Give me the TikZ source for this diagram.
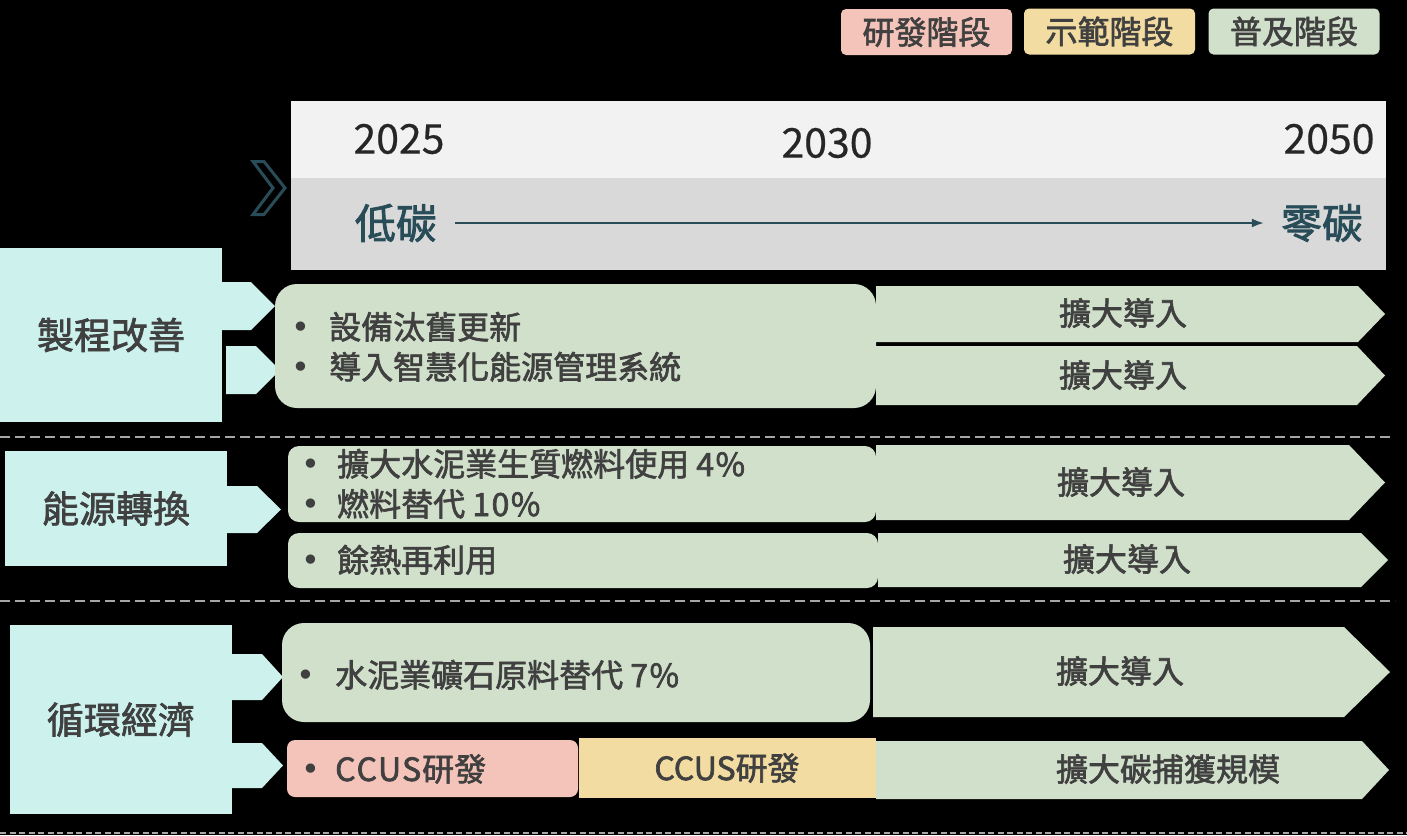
\documentclass[tikz,border=0pt]{standalone}
\usepackage{fontspec}
\setmainfont{Noto Sans CJK TC}[FakeBold=2]
\newfontfamily\yearfont{Noto Sans CJK TC}[FakeBold=0.5]
\newfontfamily\bulletfont{DejaVu Sans}
\usepackage{tikz}
\usetikzlibrary{arrows.meta}

\definecolor{txtgray}{HTML}{404040}
\definecolor{catcyan}{HTML}{CDF2EE}
\definecolor{stagegreen}{HTML}{D0E0CA}
\definecolor{stagepink}{HTML}{F4C4BA}
\definecolor{stageyellow}{HTML}{F2DCA2}
\definecolor{hdlight}{HTML}{F2F2F2}
\definecolor{hddark}{HTML}{D9D9D9}
\definecolor{darkteal}{HTML}{284C58}
\definecolor{sepgray}{HTML}{A6A6A6}

\newcommand\bulletline[2]{\makebox[0pt]{\raisebox{1pt}{\bulletfont\fontsize{32}{36}\selectfont •}}\hspace{#1}#2}

\begin{document}
\begin{tikzpicture}[x=1pt,y=-1pt,
    legend/.style={rounded corners=5pt, minimum width=171pt, minimum height=46pt, inner sep=0pt, text=txtgray, font=\fontsize{32}{38}\selectfont},
    catbox/.style={fill=catcyan, minimum width=222pt, inner sep=0pt, text=txtgray, font=\fontsize{37}{44}\selectfont},
    year/.style={inner sep=0pt, text=black!85, font=\yearfont\fontsize{41}{48}\selectfont},
    carbon/.style={inner sep=0pt, text=darkteal, font=\fontsize{41}{48}\selectfont},
    item/.style={anchor=west, inner sep=0pt, text height=26pt, text depth=2pt, text=txtgray, font=\fontsize{32}{38}\selectfont},
    stagetext/.style={inner sep=0pt, text=txtgray, font=\fontsize{32}{38}\selectfont},
    sepline/.style={sepgray, line width=2pt, dash pattern=on 10pt off 5pt}]

  % Background
  \fill[black] (0,0) rectangle (1407,835);
  \useasboundingbox (0,0) rectangle (1407,835);

  % Legend
  \node[legend, fill=stagepink] (rd) at (926.5,32) {研發階段};
  \node[legend, fill=stageyellow] (demo) at (1109.5,31.5) {示範階段};
  \node[legend, fill=stagegreen] (pop) at (1294,31.5) {普及階段};

  % Timeline header
  \fill[hdlight] (291,101) rectangle (1386,178);
  \fill[hddark] (291,178) rectangle (1386,270);
  \draw[darkteal, line width=3pt, line join=miter] (253,161.5) -- (264,161.5) -- (285,188) -- (264,214.5) -- (253,214.5) -- (273,188) -- cycle;
  \node[year] (y2025) at (399,139) {2025};
  \node[year] (y2030) at (827,143) {2030};
  \node[year] (y2050) at (1329,139) {2050};
  \node[carbon] (low) at (396,223) {低碳};
  \node[carbon] (zero) at (1322,223) {零碳};
  \draw[darkteal, line width=2pt, -{Latex[length=12pt,width=9pt]}, shorten <=18pt, shorten >=17pt] (low.east) -- (zero.west);

  % Categories
  \node[catbox, minimum height=174pt] (proc) at (111,335) {製程改善};
  \node[catbox, minimum height=115pt] (energy) at (116,508.5) {能源轉換};
  \node[catbox, minimum height=189pt] (circ) at (121,719.5) {循環經濟};
  \foreach \xa/\xb/\xc/\yt/\yb in {222/251/275/282/330, 226/256/280/346/394, 227/257/281/486/533, 232/262/283/654/700, 232/262/283/743/788} {
    \fill[catcyan] (\xa,\yt) -- (\xb,\yt) -- (\xc,{(\yt+\yb)/2}) -- (\xb,\yb) -- (\xa,\yb) -- cycle;
  }

  % Separators
  \draw[sepline] (0,437) -- (1392,437);
  \draw[sepline] (0,601) -- (1395,601);
  \draw[sepgray, line width=2pt, dash pattern=on 6pt off 3.5pt] (0,833) -- (1407,833);

  % Stage arrows
  \foreach \xa/\xb/\xc/\yt/\yb in {876/1358/1385/286/342, 876/1357/1385/346/405, 876/1349/1385/445/520, 878/1361/1388/533/587, 873/1344/1390/627/717, 876/1362/1389/741/799} {
    \fill[stagegreen] (\xa,\yt) -- (\xb,\yt) -- (\xc,{(\yt+\yb)/2}) -- (\xb,\yb) -- (\xa,\yb) -- cycle;
  }
  \node[stagetext] (r1) at (1123,313) {擴大導入};
  \node[stagetext] (r2) at (1123,375) {擴大導入};
  \node[stagetext] (r3) at (1121,482) {擴大導入};
  \node[stagetext] (r4) at (1127,559) {擴大導入};
  \node[stagetext] (r5) at (1120,671) {擴大導入};
  \node[stagetext] (r6) at (1168,769) {擴大碳捕獲規模};

  % Measures
  \fill[stagegreen, rounded corners=22pt] (275,284) rectangle (876,408);
  \fill[stagegreen, rounded corners=11pt] (288,446) rectangle (876,522);
  \fill[stagegreen, rounded corners=11pt] (288,533) rectangle (878,588);
  \fill[stagegreen, rounded corners=22pt] (282,623) rectangle (870,722);
  \fill[stagepink, rounded corners=8pt] (287,740) rectangle (578,797);
  \fill[stageyellow] (579,738) rectangle (876,798);

  \node[item] (m1) at (301,327) {\bulletline{28pt}{設備汰舊更新}};
  \node[item] (m2) at (301,367) {\bulletline{28pt}{導入智慧化能源管理系統}};
  \node[item] (m3) at (311,464) {\bulletline{26pt}{擴大水泥業生質燃料使用 4\kern1.5pt\%}};
  \node[item] (m4) at (311,504) {\bulletline{26pt}{燃料替代 1\kern1.5pt0\kern1.5pt\%}};
  \node[item] (m5) at (311,560) {\bulletline{26pt}{餘熱再利用}};
  \node[item] (m6) at (306,675) {\bulletline{29pt}{水泥業礦石原料替代 7\kern1.5pt\%}};
  \node[item] (m7) at (311,769) {\bulletline{24pt}{C\kern1pt C\kern1pt U\kern1pt S\kern1pt 研發}};
  \node[stagetext] (m8) at (727,768) {CCUS研發};
\end{tikzpicture}
\end{document}
